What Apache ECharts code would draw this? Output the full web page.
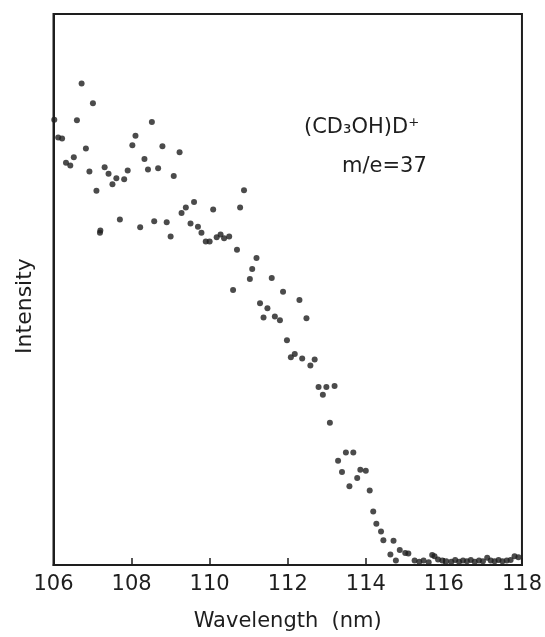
<!DOCTYPE html>
<html>
<head>
<meta charset="utf-8">
<script src="https://cdn.jsdelivr.net/npm/echarts@6/dist/echarts.min.js"></script>
<style>
html,body{margin:0;padding:0;background:#fff;}
#chart{width:545px;height:637px;}
</style>
</head>
<body>
<div id="chart"></div>
<script>
// Wavelength (nm)
var wavelength = [
106.02,106.12,106.22,106.32,106.43,106.52,106.60,106.72,106.83,106.92,
107.01,107.10,107.19,107.20,107.31,107.41,107.51,107.61,107.70,107.81,
107.90,108.02,108.10,108.22,108.33,108.42,108.52,108.58,108.68,108.79,
108.90,109.00,109.08,109.23,109.28,109.39,109.51,109.60,109.70,109.79,
109.90,110.00,110.09,110.18,110.28,110.37,110.50,110.60,110.70,110.78,
110.88,111.03,111.09,111.20,111.29,111.38,111.48,111.59,111.67,111.80,
111.88,111.98,112.08,112.18,112.30,112.37,112.48,112.58,112.69,112.79,
112.90,112.99,113.08,113.20,113.29,113.39,113.49,113.58,113.68,113.78,
113.86,114.00,114.10,114.19,114.27,114.39,114.45,114.63,114.71,114.77,
114.87,115.01,115.09,115.25,115.37,115.48,115.61,115.70,115.76,115.85,
115.96,116.06,116.19,116.29,116.39,116.49,116.59,116.69,116.79,116.90,
117.00,117.11,117.20,117.30,117.40,117.50,117.61,117.71,117.81,117.91
];
// Intensity (arbitrary units)
var intensity = [
80.8,77.6,77.4,73.0,72.5,74.0,80.7,87.4,75.6,71.4,
83.8,67.9,60.3,60.7,72.2,71.0,69.1,70.2,62.7,70.0,
71.6,76.2,77.9,61.3,73.7,71.8,80.4,62.4,72.0,76.0,
62.2,59.6,70.6,74.9,63.9,64.9,62.0,65.9,61.4,60.3,
58.7,58.7,64.5,59.5,60.0,59.3,59.6,49.9,57.2,64.9,
68.0,51.9,53.7,55.7,47.5,44.9,46.6,52.1,45.1,44.4,
49.6,40.8,37.7,38.3,48.1,37.5,44.8,36.2,37.3,32.3,
30.9,32.3,25.8,32.5,18.9,16.9,20.4,14.3,20.4,15.8,
17.3,17.1,13.5,9.7,7.5,6.1,4.5,1.9,4.4,0.8,
2.7,2.2,2.1,0.8,0.6,0.8,0.5,1.8,1.6,1.0,
0.8,0.7,0.6,0.9,0.6,0.8,0.7,0.9,0.6,0.8,
0.7,1.3,0.8,0.7,0.9,0.7,0.8,0.9,1.6,1.4
];
var xTicks = [106,108,110,112,114,116,118];
var xTitle = 'Wavelength  (nm)';
var yTitle = 'Intensity';
var label1 = '(CD\u2083OH)D\u207A';
var label2 = 'm/e=37';

var points = wavelength.map(function(w,i){ return [w, intensity[i]]; });
var ink = '#1e1e1e';
var font = 'DejaVu Sans';

var chart = echarts.init(document.getElementById('chart'), null, {renderer:'canvas'});
chart.setOption({
  animation:false,
  backgroundColor:'#fff',
  grid:{left:53.5, right:18, top:14, bottom:66, show:true, borderColor:ink, borderWidth:2, backgroundColor:'transparent'},
  xAxis:{
    type:'value', min:xTicks[0], max:xTicks[xTicks.length-1], interval:2,
    name:xTitle, nameLocation:'middle', nameGap:46,
    nameTextStyle:{fontFamily:font, fontSize:21, color:ink},
    axisLine:{show:true, onZero:false, lineStyle:{color:ink, width:2}},
    axisTick:{show:true, inside:true, length:7, lineStyle:{color:ink, width:1.5}},
    axisLabel:{fontFamily:font, fontSize:21, color:ink, margin:9},
    splitLine:{show:false}
  },
  yAxis:{
    type:'value', min:0, max:100,
    axisLine:{show:true, lineStyle:{color:ink, width:2}},
    axisTick:{show:false}, axisLabel:{show:false}, splitLine:{show:false}
  },
  series:[{
    type:'scatter', data:points, symbol:'circle', symbolSize:6,
    itemStyle:{color:ink}
  }],
  graphic:[
    {type:'text', x:25, y:306, rotation:Math.PI/2,
     style:{text:yTitle, x:0, y:0, textAlign:'center', textVerticalAlign:'middle', fontFamily:font, fontSize:22, fill:ink}},
    {type:'text', x:304, y:128,
     style:{text:label1, x:0, y:0, textAlign:'left', textVerticalAlign:'middle', fontFamily:font, fontSize:21, fill:ink}},
    {type:'text', x:342, y:167,
     style:{text:label2, x:0, y:0, textAlign:'left', textVerticalAlign:'middle', fontFamily:font, fontSize:21, fill:ink}}
  ]
});
</script>
</body>
</html>
